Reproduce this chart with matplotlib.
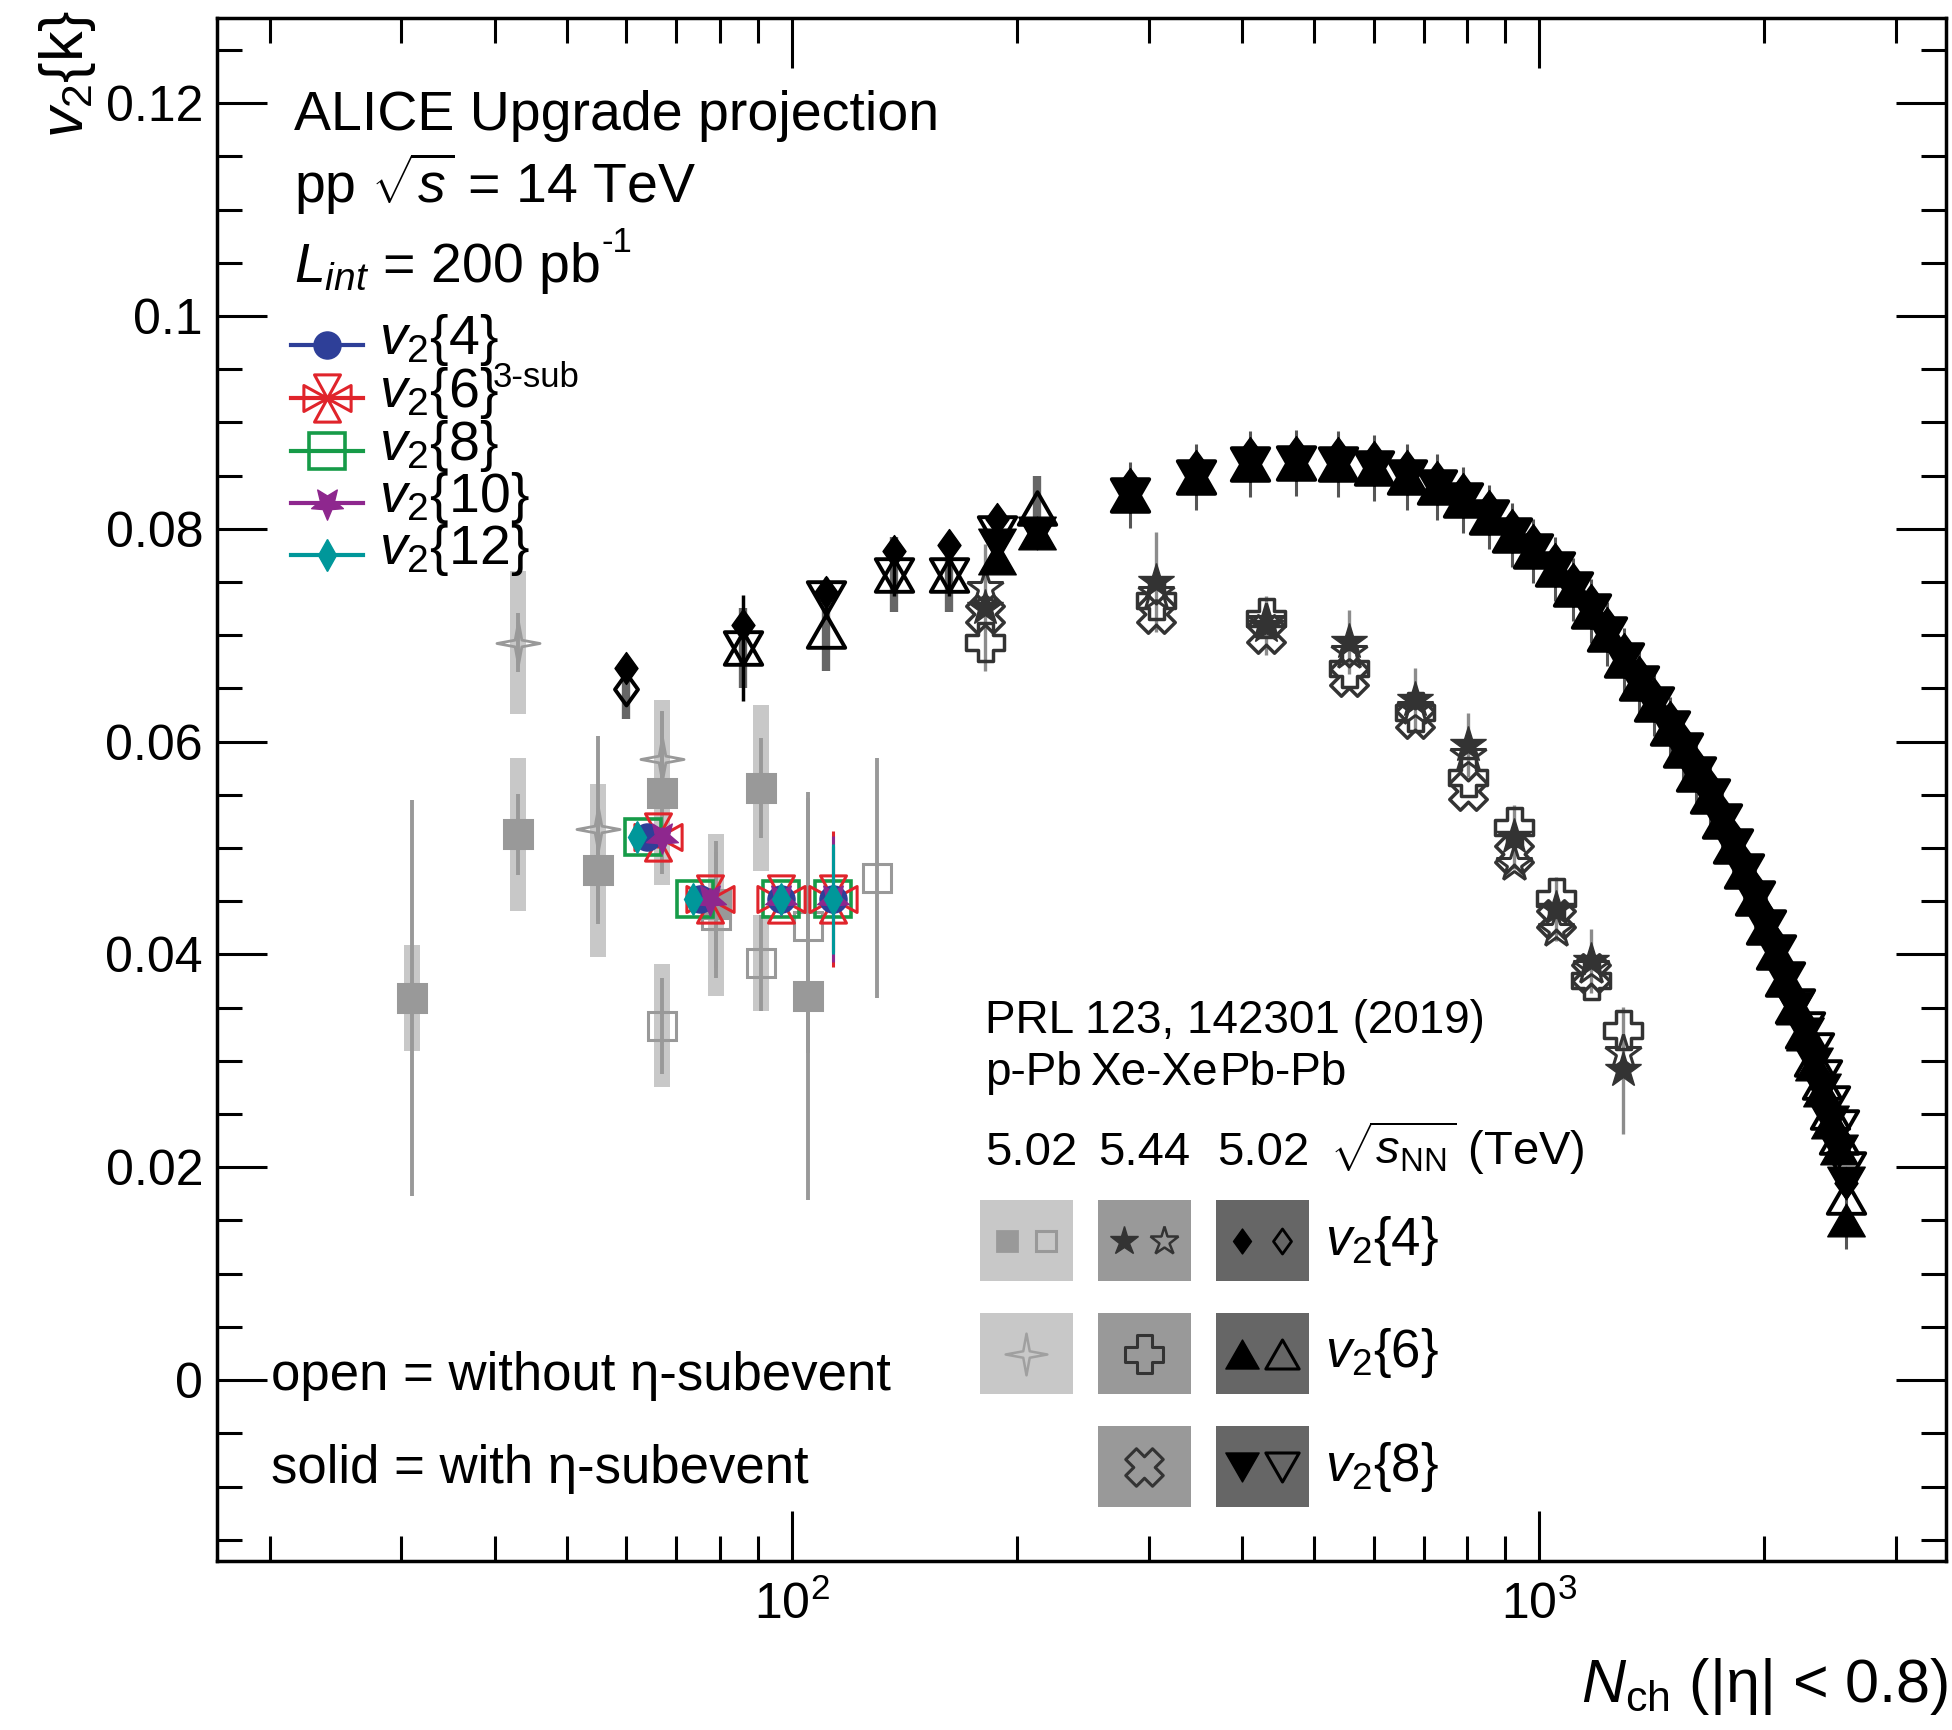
import numpy as np
import matplotlib
matplotlib.use('Agg')
import matplotlib.pyplot as plt
from matplotlib.path import Path
from matplotlib.patches import Rectangle
from matplotlib.ticker import MultipleLocator, LogLocator, NullFormatter, FuncFormatter

plt.rcParams['font.family'] = ['Liberation Sans', 'DejaVu Sans']
plt.rcParams['mathtext.fontset'] = 'custom'
plt.rcParams['mathtext.rm'] = 'Liberation Sans'
plt.rcParams['mathtext.it'] = 'Liberation Sans:italic'
plt.rcParams['mathtext.bf'] = 'Liberation Sans:bold'
plt.rcParams['mathtext.sf'] = 'Liberation Sans'

W, H = 1952, 1730

# ---------------- data ----------------
# ALICE upgrade projection, pp 14 TeV
proj_v24_x = [64.0, 75.4, 96.7, 113.5]
proj_v24 = [0.0510, 0.0452, 0.0452, 0.0452]
proj_v24_err = [0.0010, 0.0010, 0.0010, 0.0050]
proj_v26_x = [66.2, 77.6, 96.7, 113.5]
proj_v26 = [0.0510, 0.0452, 0.0452, 0.0452]
proj_v26_err = [0.0010, 0.0010, 0.0010, 0.0064]
proj_v28_x = [63.2, 74.2, 96.7, 113.5]
proj_v28 = [0.0510, 0.0452, 0.0452, 0.0452]
proj_v28_err = [0.0010, 0.0010, 0.0010, 0.0050]
proj_v210_x = [67.0, 77.6, 96.7, 113.5]
proj_v210 = [0.0510, 0.0452, 0.0452, 0.0452]
proj_v210_err = [0.0010, 0.0010, 0.0010, 0.0059]
proj_v212_x = [62.1, 73.6, 96.7, 113.5]
proj_v212 = [0.0510, 0.0452, 0.0452, 0.0452]
proj_v212_err = [0.0010, 0.0010, 0.0010, 0.0052]

# p-Pb 5.02 TeV
pPb_v24sub_x = [31, 43, 55, 67, 79, 91, 105]
pPb_v24sub = [0.0359, 0.0513, 0.0479, 0.0552, 0.0447, 0.0556, 0.0361]
pPb_v24sub_stat = [0.0186, 0.0038, 0.0050, 0.0076, 0.0060, 0.0047, 0.0192]
pPb_v24sub_sys = [0.0050, 0.0072, 0.0081, 0.0087, 0.0000, 0.0078, 0.0000]
pPb_v24_x = [67, 79, 91, 105, 130]
pPb_v24 = [0.0333, 0.0437, 0.0392, 0.0427, 0.0472]
pPb_v24_stat = [0.0045, 0.0059, 0.0045, 0.0120, 0.0113]
pPb_v24_sys = [0.0058, 0.0076, 0.0045, 0.0000, 0.0000]
pPb_v26_x = [43, 55, 67]
pPb_v26 = [0.0693, 0.0518, 0.0584]
pPb_v26_stat = [0.0028, 0.0087, 0.0045]
pPb_v26_sys = [0.0067, 0.0000, 0.0000]

# Xe-Xe 5.44 TeV
XeXe_x = [181, 307, 431, 557, 681, 802, 926, 1051, 1172, 1294]
XeXe_v24sub = [0.0726, 0.0750, 0.0709, 0.0694, 0.0639, 0.0597, 0.0510, 0.0443, 0.0394, 0.0291]
XeXe_v24sub_stat = [0.0060, 0.0047, 0.0028, 0.0030, 0.0030, 0.0030, 0.0030, 0.0030, 0.0030, 0.0060]
XeXe_v24 = [0.0744, 0.0740, 0.0712, 0.0684, 0.0632, 0.0587, 0.0485, 0.0423, 0.0388, 0.0307]
XeXe_v26 = [0.0694, 0.0733, 0.0716, 0.0669, 0.0628, 0.0567, 0.0520, 0.0453, 0.0376, 0.0329]
XeXe_v28_x = [181, 307, 431, 557, 681, 802, 926, 1051, 1172]
XeXe_v28 = [0.0720, 0.0720, 0.0701, 0.0661, 0.0621, 0.0554, 0.0494, 0.0433, 0.0383]

# Pb-Pb 5.02 TeV, low multiplicity
PbPb_v24sub_lx = [60, 86, 111, 137, 162, 188]
PbPb_v24sub_l = [0.0669, 0.0710, 0.0741, 0.0779, 0.0785, 0.0809]
PbPb_v24_lx = [60]
PbPb_v24_l = [0.0649]
PbPb_v24_lsys = [0.0028]
PbPb_v26_lx = [86, 111, 137, 162, 213]
PbPb_v26_l = [0.0688, 0.0704, 0.0757, 0.0757, 0.0820]
PbPb_v26_lsys = [0.0038, 0.0038, 0.0035, 0.0035, 0.0030]
PbPb_v28_lx = [86, 111, 137, 162, 188]
PbPb_v28_l = [0.0688, 0.0735, 0.0757, 0.0757, 0.0796]
PbPb_v28_lstat = [0.0050, 0.0020, 0.0020, 0.0020, 0.0020]
PbPb_sub_lx = [188, 213]
PbPb_v26sub_l = [0.0773, 0.0796]
PbPb_v28sub_l = [0.0785, 0.0796]

# Pb-Pb 5.02 TeV, high multiplicity
PbPb_x = [283, 347, 410, 473, 537, 600, 665, 729, 791, 855, 918, 981, 1048, 1110,
          1171, 1233, 1299, 1361, 1425, 1495, 1558, 1620, 1689, 1753, 1817, 1881,
          1946, 2011, 2074, 2134, 2197, 2265, 2329, 2389, 2450, 2519, 2575]
PbPb_v26sub = [0.0832, 0.0849, 0.0861, 0.0862, 0.0861, 0.0857, 0.0849, 0.0839, 0.0827,
               0.0811, 0.0794, 0.0779, 0.0762, 0.0743, 0.0723, 0.0701, 0.0677, 0.0655,
               0.0635, 0.0613, 0.0592, 0.0570, 0.0549, 0.0525, 0.0502, 0.0478, 0.0453,
               0.0426, 0.0402, 0.0377, 0.0350, 0.0325, 0.0297, 0.0273, 0.0243, 0.0218, 0.0150]
PbPb_v28sub = [0.0832, 0.0849, 0.0861, 0.0862, 0.0861, 0.0857, 0.0849, 0.0839, 0.0827,
               0.0811, 0.0794, 0.0779, 0.0762, 0.0743, 0.0723, 0.0701, 0.0677, 0.0655,
               0.0635, 0.0613, 0.0592, 0.0570, 0.0549, 0.0525, 0.0502, 0.0478, 0.0453,
               0.0426, 0.0402, 0.0377, 0.0350, 0.0325, 0.0297, 0.0273, 0.0243, 0.0215, 0.0185]
PbPb_v24sub = [0.0842, 0.0859, 0.0871, 0.0872, 0.0871, 0.0867, 0.0859, 0.0849, 0.0837,
               0.0821, 0.0804, 0.0789, 0.0772, 0.0753, 0.0733, 0.0711, 0.0687, 0.0665,
               0.0645, 0.0623, 0.0602, 0.0580, 0.0559, 0.0535, 0.0512, 0.0488, 0.0463,
               0.0436, 0.0412, 0.0387, 0.0360, 0.0335, 0.0307, 0.0283, 0.0253, 0.0228, 0.0185]
PbPb_v26 = [0.0832, 0.0849, 0.0861, 0.0862, 0.0861, 0.0857, 0.0849, 0.0839, 0.0827,
            0.0811, 0.0794, 0.0779, 0.0762, 0.0743, 0.0723, 0.0701, 0.0677, 0.0655,
            0.0635, 0.0613, 0.0592, 0.0570, 0.0549, 0.0525, 0.0502, 0.0478, 0.0453,
            0.0426, 0.0402, 0.0377, 0.0352, 0.0328, 0.0302, 0.0280, 0.0252, 0.0228, 0.0172]
PbPb_v28 = [0.0832, 0.0849, 0.0861, 0.0862, 0.0861, 0.0857, 0.0849, 0.0839, 0.0827,
            0.0811, 0.0794, 0.0779, 0.0762, 0.0743, 0.0723, 0.0701, 0.0677, 0.0655,
            0.0635, 0.0613, 0.0592, 0.0570, 0.0549, 0.0525, 0.0502, 0.0478, 0.0453,
            0.0426, 0.0402, 0.0377, 0.0352, 0.0330, 0.0310, 0.0285, 0.0260, 0.0238, 0.0198]
PbPb_stat = [0.0031, 0.0031, 0.0031, 0.0031, 0.0031, 0.0031, 0.0031, 0.0031, 0.0031,
             0.0030, 0.0030, 0.0030, 0.0030, 0.0030, 0.0030, 0.0030, 0.0030, 0.0030,
             0.0030, 0.0029, 0.0029, 0.0029, 0.0029, 0.0029, 0.0028, 0.0028, 0.0028,
             0.0028, 0.0028, 0.0028, 0.0028, 0.0028, 0.0027, 0.0027, 0.0027, 0.0027, 0.0027]


# ---------------- marker shapes ----------------
def make_path(polys):
    verts, codes = [], []
    for p in polys:
        verts += list(p) + [p[0]]
        codes += [Path.MOVETO] + [Path.LINETO] * (len(p) - 1) + [Path.CLOSEPOLY]
    return Path(verts, codes)


tri_up = make_path([[(0, 0.87), (-1, -0.87), (1, -0.87)]])
tri_down = make_path([[(0, -0.87), (-1, 0.87), (1, 0.87)]])
diamond = make_path([[(0, 1), (0.72, 0), (0, -1), (-0.72, 0)]])
a = 0.4
plus_pts = [(-a, 1), (a, 1), (a, a), (1, a), (1, -a), (a, -a), (a, -1), (-a, -1),
            (-a, -a), (-1, -a), (-1, a), (-a, a)]
open_cross = make_path([plus_pts])
xcross = make_path([[((x - y) / np.sqrt(2), (x + y) / np.sqrt(2)) for x, y in plus_pts]])
four_star = Path.unit_regular_star(4, 0.22)
b = 0.55
four_tri = make_path([[(0, 0), (-b, 1), (b, 1)], [(0, 0), (-b, -1), (b, -1)],
                      [(0, 0), (-1, b), (-1, -b)], [(0, 0), (1, b), (1, -b)]])
_st = Path.unit_regular_star(5, 0.45)
star_down = Path(_st.vertices * np.array([1, -1]), _st.codes)

fig = plt.figure(figsize=(W / 100, H / 100), dpi=100)
ax = fig.add_axes([217 / W, 1 - 1561 / H, (1946 - 217) / W, (1561 - 18) / H])


def bars(x, y, err, color, lw, z):
    c = ax.errorbar(x, y, yerr=err, fmt='none', ecolor=color, elinewidth=lw,
                    capsize=0, zorder=z)
    for lc in c[2]:
        lc.set_capstyle('butt')


def pts(x, y, marker, ms, color, filled=True, mew=2.2, z=4):
    ax.plot(x, y, ls='none', marker=marker, ms=ms, mfc=color if filled else 'none',
            mec=color, mew=mew, zorder=z)


# p-Pb
pPb_c, pPb_sys_c = '#999999', '#c8c8c8'
bars(pPb_v24sub_x, pPb_v24sub, pPb_v24sub_sys, pPb_sys_c, 11.5, 1)
bars(pPb_v24_x, pPb_v24, pPb_v24_sys, pPb_sys_c, 11.5, 1)
bars(pPb_v26_x, pPb_v26, pPb_v26_sys, pPb_sys_c, 11.5, 1)
bars(pPb_v24sub_x, pPb_v24sub, pPb_v24sub_stat, pPb_c, 2.8, 2)
bars(pPb_v24_x, pPb_v24, pPb_v24_stat, pPb_c, 2.8, 2)
bars(pPb_v26_x, pPb_v26, pPb_v26_stat, pPb_c, 2.8, 2)
pts(pPb_v24sub_x, pPb_v24sub, 's', 19.5, pPb_c, z=3)
pts(pPb_v24_x, pPb_v24, 's', 19.5, pPb_c, filled=False, z=3)
pts(pPb_v26_x, pPb_v26, four_star, 31, pPb_c, filled=False, mew=2.0, z=3)

# Pb-Pb
pb_sys_c = '#666666'
bars(PbPb_v24_lx, PbPb_v24_l, PbPb_v24_lsys, pb_sys_c, 6, 2)
bars(PbPb_v26_lx, PbPb_v26_l, PbPb_v26_lsys, pb_sys_c, 6, 2)
bars(PbPb_v28_lx, PbPb_v28_l, PbPb_v28_lstat, 'black', 2.5, 3)
bars(PbPb_x, PbPb_v26sub, PbPb_stat, '#555555', 2.2, 3)
pts(PbPb_v24_lx, PbPb_v24_l, diamond, 23, 'black', filled=False, mew=2.8)
pts(PbPb_v26_lx, PbPb_v26_l, tri_up, 27, 'black', filled=False, mew=2.8)
pts(PbPb_v28_lx, PbPb_v28_l, tri_down, 27, 'black', filled=False, mew=2.8)
pts(PbPb_x, PbPb_v26, tri_up, 27, 'black', filled=False, mew=2.8)
pts(PbPb_x, PbPb_v28, tri_down, 27, 'black', filled=False, mew=2.8)
pts(PbPb_sub_lx, PbPb_v26sub_l, tri_up, 27, 'black', mew=1, z=5)
pts(PbPb_sub_lx, PbPb_v28sub_l, tri_down, 27, 'black', mew=1, z=5)
pts(PbPb_x, PbPb_v26sub, tri_up, 27, 'black', mew=1, z=5)
pts(PbPb_x, PbPb_v28sub, tri_down, 27, 'black', mew=1, z=5)
pts(PbPb_x, PbPb_v24sub, diamond, 23, 'black', mew=1, z=5)
pts(PbPb_v24sub_lx, PbPb_v24sub_l, diamond, 23, 'black', mew=1, z=5)

# Xe-Xe
xe_c = '#333333'
bars(XeXe_x, XeXe_v24sub, XeXe_v24sub_stat, '#8c8c8c', 2.4, 3)
pts(XeXe_v28_x, XeXe_v28, xcross, 27, xe_c, filled=False, mew=2.5)
pts(XeXe_x, XeXe_v26, open_cross, 27, xe_c, filled=False, mew=2.5)
pts(XeXe_x, XeXe_v24, '*', 27, xe_c, filled=False, mew=2.2)
pts(XeXe_x, XeXe_v24sub, '*', 27, xe_c, mew=1)

# projections
proj = [
    (proj_v28_x, proj_v28, proj_v28_err, 's', 26, '#169b48', False, 2.6),
    (proj_v26_x, proj_v26, proj_v26_err, four_tri, 34, '#e0242b', False, 2.2),
    (proj_v24_x, proj_v24, proj_v24_err, 'o', 19.5, '#2e3f98', True, 1),
    (proj_v210_x, proj_v210, proj_v210_err, star_down, 24, '#8e278e', True, 1),
    (proj_v212_x, proj_v212, proj_v212_err, 'd', 16, '#00979a', True, 1),
]
for i, (x, y, e, m, ms, c, f, mew) in enumerate(proj):
    bars(x, y, e, c, 2.2, 6 + i)
    pts(x, y, m, ms, c, filled=f, mew=mew, z=6 + i)

# ---------------- axes ----------------
ax.set_xscale('log')
ax.set_xlim(17, 3500)
ax.set_ylim(-0.017, 0.128)
ax.xaxis.set_major_locator(LogLocator(base=10))
ax.xaxis.set_minor_locator(LogLocator(base=10, subs=np.arange(2, 10)))
ax.xaxis.set_minor_formatter(NullFormatter())
ax.yaxis.set_major_locator(MultipleLocator(0.02))
ax.yaxis.set_minor_locator(MultipleLocator(0.005))
ax.yaxis.set_major_formatter(FuncFormatter(lambda v, p: '0' if abs(v) < 1e-9 else f'{v:g}'))
ax.tick_params(which='both', direction='in', top=True, right=True, width=2.2,
               labelsize=36)
ax.tick_params(which='major', length=36)
ax.tick_params(which='minor', length=18)
ax.tick_params(axis='x', pad=14)
ax.tick_params(axis='y', pad=10)
for s in ax.spines.values():
    s.set_linewidth(2.5)


def ftext(x, y, s, **kw):
    kw.setdefault('va', 'baseline')
    return fig.text(x / W, 1 - y / H, s, **kw)


def fmark(x, y, marker, ms, color, filled=True, mew=2.0):
    ax.plot([x / W], [1 - y / H], ls='none', marker=marker, ms=ms,
            mfc=color if filled else 'none', mec=color, mew=mew,
            transform=fig.transFigure, clip_on=False, zorder=12)


fig.text(68 / W, 1 - 10 / H, r'$v_{2}\{\mathrm{k}\}$', rotation=90, ha='center',
         va='top', fontsize=44)
ftext(1948, 1702, r'$N_{\mathrm{ch}}$ (|η| < 0.8)', ha='right', fontsize=44)

ftext(294, 130, 'ALICE Upgrade projection', fontsize=40)
ftext(294, 203, r'pp $\sqrt{s}$ = 14 TeV', fontsize=40)
lum = ftext(294, 282, r'$L_{int}$ = 200 pb', fontsize=40)
renderer = fig.canvas.get_renderer()
lum_end = lum.get_window_extent(renderer).x1
ftext(lum_end + 2, 252, '-1', fontsize=25)

# projection legend
leg_rows = [345, 398, 451, 503, 555]
leg_labels = [r'$v_{2}\{4\}$', r'$v_{2}\{6\}$', r'$v_{2}\{8\}$', r'$v_{2}\{10\}$', r'$v_{2}\{12\}$']
leg_order = [2, 1, 0, 3, 4]
for row, lab, k in zip(leg_rows, leg_labels, leg_order):
    _, _, _, m, ms, c, f, mew = proj[k]
    ax.plot([291 / W, 363 / W], [1 - row / H] * 2, color=c, lw=3,
            transform=fig.transFigure, clip_on=False, zorder=11)
    fmark(327, row, m, ms, c, filled=f, mew=mew)
    ftext(379, row + 9, lab, fontsize=40)
ftext(493, 387, '3-sub', fontsize=25)

# data legend
ftext(985, 1033, 'PRL 123, 142301 (2019)', fontsize=33)
ftext(985, 1085, 'p-Pb', fontsize=33)
ftext(1091, 1085, 'Xe-Xe', fontsize=33)
ftext(1219, 1085, 'Pb-Pb', fontsize=33)
ftext(985, 1165, '5.02', fontsize=34)
ftext(1098, 1165, '5.44', fontsize=34)
ftext(1217, 1165, '5.02', fontsize=34)
ftext(1330, 1165, r'$\sqrt{s_{\mathrm{NN}}}$ (TeV)', fontsize=34)

col_x = [980, 1098, 1216]
col_c = ['#c8c8c8', '#999999', '#666666']
row_y = [1200, 1313, 1426]
for j, y0 in enumerate(row_y):
    for i, x0 in enumerate(col_x):
        if i == 0 and j == 2:
            continue
        ax.add_patch(Rectangle((x0 / W, 1 - (y0 + 81) / H), 93 / W, 81 / H,
                               facecolor=col_c[i], edgecolor='none',
                               transform=fig.transFigure, clip_on=False, zorder=11))
rc = [y + 40.5 for y in row_y]
fmark(1007, rc[0], 's', 14, '#999999')
fmark(1046, rc[0], 's', 14, '#999999', filled=False, mew=2.2)
fmark(1124, rc[0], '*', 21, '#333333', mew=1)
fmark(1164, rc[0], '*', 21, '#333333', filled=False, mew=1.8)
fmark(1242, rc[0], diamond, 18, 'black', mew=1)
fmark(1282, rc[0], diamond, 18, 'black', filled=False, mew=2.0)
fmark(1026, rc[1], four_star, 30, '#a0a0a0', filled=False, mew=1.8)
fmark(1144, rc[1], open_cross, 27, '#333333', filled=False, mew=2.2)
fmark(1242, rc[1], tri_up, 24, 'black', mew=1)
fmark(1282, rc[1], tri_up, 24, 'black', filled=False, mew=2.2)
fmark(1144, rc[2], xcross, 27, '#333333', filled=False, mew=2.2)
fmark(1242, rc[2], tri_down, 24, 'black', mew=1)
fmark(1282, rc[2], tri_down, 24, 'black', filled=False, mew=2.2)
for y, k in zip(rc, ['4', '6', '8']):
    ftext(1325, y + 14, r'$v_{2}\{' + k + r'\}$', fontsize=38)

ftext(271, 1390, 'open = without η-subevent', fontsize=38)
ftext(271, 1483, 'solid = with η-subevent', fontsize=38)

fig.savefig('out.png', dpi=100)
